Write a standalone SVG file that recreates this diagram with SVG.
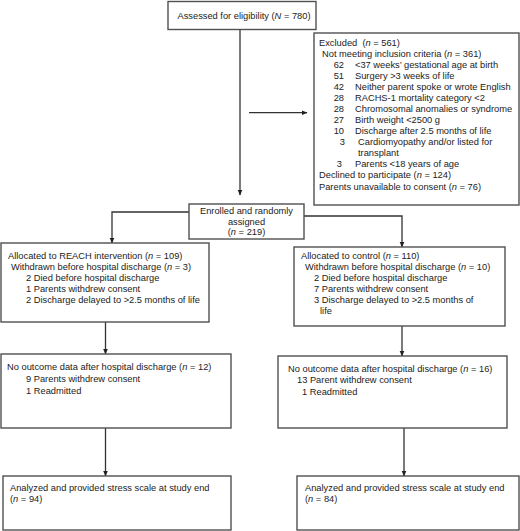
<svg xmlns="http://www.w3.org/2000/svg" width="520" height="531" viewBox="0 0 520 531">
<style>
text{font-family:"Liberation Sans",Arial,sans-serif;font-size:9.3px;fill:#222}
.c{text-anchor:middle}
.e{text-anchor:end}
.i{font-style:italic}
rect{fill:#fff;stroke:#505050;stroke-width:1.4}
.ln{fill:none;stroke:#333;stroke-width:1.3}
</style>
<defs>
<marker id="ah" markerWidth="6" markerHeight="6" refX="5.5" refY="3" orient="auto" markerUnits="userSpaceOnUse">
<path d="M0,0.5 L6,3 L0,5.5 Z" fill="#222"/>
</marker>
</defs>
<rect x="0" y="0" width="520" height="531" style="fill:#fff;stroke:none"/>
<g id="connectors">
<path class="ln" d="M240,29.5 V195" marker-end="url(#ah)"/>
<path class="ln" d="M249,112.7 H307" marker-end="url(#ah)"/>
<path class="ln" d="M189,212 H112 V243" marker-end="url(#ah)"/>
<path class="ln" d="M304,216 H402 V247" marker-end="url(#ah)"/>
<path class="ln" d="M105.5,322 V354" marker-end="url(#ah)"/>
<path class="ln" d="M105.5,428 V476" marker-end="url(#ah)"/>
<path class="ln" d="M402,326 V356" marker-end="url(#ah)"/>
<path class="ln" d="M404,428 V476" marker-end="url(#ah)"/>
</g>
<g id="assessed">
<rect x="168" y="1.5" width="148" height="28"/>
<text x="244" y="18.5" class="c">Assessed for eligibility (<tspan class="i">N</tspan> = 780)</text>
</g>
<g id="excluded">
<rect x="314" y="33" width="205" height="172"/>
<text x="319" y="46">Excluded&#160; (<tspan class="i">n</tspan> = 561)</text>
<text x="322" y="57">Not meeting inclusion criteria (<tspan class="i">n</tspan> = 361)</text>
<text x="344" y="68" class="e">62</text><text x="355" y="68">&lt;37 weeks’ gestational age at birth</text>
<text x="344" y="79" class="e">51</text><text x="355" y="79">Surgery &gt;3 weeks of life</text>
<text x="344" y="90" class="e">42</text><text x="355" y="90">Neither parent spoke or wrote English</text>
<text x="344" y="101" class="e">28</text><text x="355" y="101">RACHS-1 mortality category &lt;2</text>
<text x="344" y="112" class="e">28</text><text x="355" y="112">Chromosomal anomalies or syndrome</text>
<text x="344" y="123" class="e">27</text><text x="355" y="123">Birth weight &lt;2500 g</text>
<text x="344" y="134" class="e">10</text><text x="355" y="134">Discharge after 2.5 months of life</text>
<text x="345" y="145" class="e">3</text><text x="358" y="145">Cardiomyopathy and/or listed for</text>
<text x="358" y="156">transplant</text>
<text x="342" y="167" class="e">3</text><text x="355" y="167">Parents &lt;18 years of age</text>
<text x="319" y="178">Declined to participate (<tspan class="i">n</tspan> = 124)</text>
<text x="319" y="189.5">Parents unavailable to consent (<tspan class="i">n</tspan> = 76)</text>
</g>
<g id="enrolled">
<rect x="189" y="204" width="115" height="35"/>
<text x="246.5" y="214" class="c">Enrolled and randomly</text>
<text x="246.5" y="224.5" class="c">assigned</text>
<text x="246.5" y="235" class="c">(<tspan class="i">n</tspan> = 219)</text>
</g>
<g id="reach">
<rect x="1" y="243" width="208" height="79"/>
<text x="8" y="259">Allocated to REACH intervention (<tspan class="i">n</tspan> = 109)</text>
<text x="11" y="270">Withdrawn before hospital discharge (<tspan class="i">n</tspan> = 3)</text>
<text x="26" y="281">2 Died before hospital discharge</text>
<text x="26" y="292">1 Parents withdrew consent</text>
<text x="26" y="303">2 Discharge delayed to &gt;2.5 months of life</text>
</g>
<g id="control">
<rect x="294" y="247" width="211" height="79"/>
<text x="301" y="259">Allocated to control (<tspan class="i">n</tspan> = 110)</text>
<text x="305" y="270">Withdrawn before hospital discharge (<tspan class="i">n</tspan> = 10)</text>
<text x="314" y="281">2 Died before hospital discharge</text>
<text x="314" y="292">7 Parents withdrew consent</text>
<text x="314" y="303">3 Discharge delayed to &gt;2.5 months of</text>
<text x="320" y="314">life</text>
</g>
<g id="nooutcome-left">
<rect x="1" y="354" width="230" height="74"/>
<text x="7" y="370">No outcome data after hospital discharge (<tspan class="i">n</tspan> = 12)</text>
<text x="26" y="381.5">9 Parents withdrew consent</text>
<text x="26" y="393.5">1 Readmitted</text>
</g>
<g id="nooutcome-right">
<rect x="278" y="356" width="229" height="72"/>
<text x="288" y="372">No outcome data after hospital discharge (<tspan class="i">n</tspan> = 16)</text>
<text x="297" y="383">13 Parent withdrew consent</text>
<text x="302" y="394.5">1 Readmitted</text>
</g>
<g id="analyzed-left">
<rect x="3" y="476" width="228" height="54"/>
<text x="10" y="491">Analyzed and provided stress scale at study end</text>
<text x="10" y="501.5">(<tspan class="i">n</tspan> = 94)</text>
</g>
<g id="analyzed-right">
<rect x="297" y="476" width="222" height="54"/>
<text x="305" y="491">Analyzed and provided stress scale at study end</text>
<text x="305" y="501.5">(<tspan class="i">n</tspan> = 84)</text>
</g>
</svg>
